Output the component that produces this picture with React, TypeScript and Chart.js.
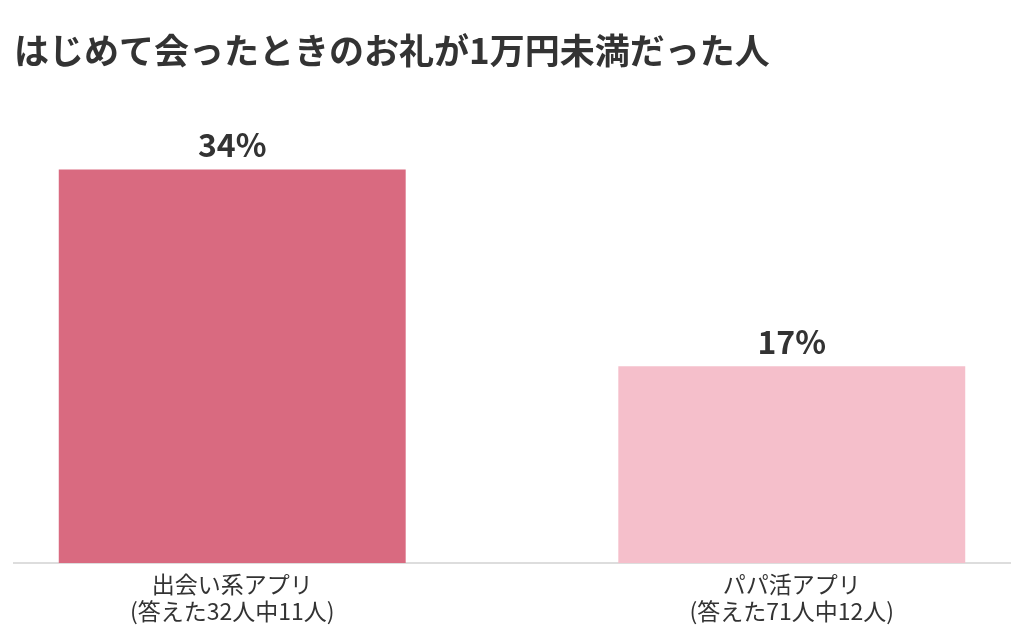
import { useEffect, useRef } from 'react';
import { Chart, registerables } from 'chart.js';

Chart.register(...registerables);

const chartTitle = 'はじめて会ったときのお礼が1万円未満だった人';
const categories = ['出会い系アプリ', 'パパ活アプリ'];
const subLabels = ['(答えた32人中11人)', '(答えた71人中12人)'];
const percentValues = [34, 17];
const barColors = ['#d96a80', '#f5bfcb'];

const fontFamily = '"Noto Sans CJK JP", "Noto Sans", sans-serif';
const textColor = '#333333';

const valueLabels = {
  id: 'valueLabels',
  afterDatasetsDraw(chart: Chart) {
    const { ctx } = chart;
    const meta = chart.getDatasetMeta(0);
    ctx.save();
    ctx.font = `bold 32px ${fontFamily}`;
    ctx.fillStyle = textColor;
    ctx.textAlign = 'center';
    ctx.textBaseline = 'alphabetic';
    meta.data.forEach((bar, i) => {
      ctx.fillText(`${percentValues[i]}%`, bar.x, bar.y - 12);
    });
    ctx.restore();
  },
};

export default function App(): JSX.Element {
  const canvasRef = useRef<HTMLCanvasElement | null>(null);

  useEffect(() => {
    if (!canvasRef.current) return;
    const chart = new Chart(canvasRef.current, {
      type: 'bar',
      data: {
        datasets: [
          {
            data: percentValues.map((v, i) => ({ x: i, y: v })),
            backgroundColor: barColors,
            barPercentage: 0.62,
            categoryPercentage: 1,
          },
        ],
      },
      options: {
        animation: false,
        responsive: true,
        maintainAspectRatio: false,
        layout: { padding: { left: 6, right: 6, top: 0, bottom: 0 } },
        plugins: {
          legend: { display: false },
          tooltip: { enabled: false },
          title: {
            display: true,
            text: chartTitle,
            align: 'start',
            color: textColor,
            font: { family: fontFamily, size: 35, weight: 'bold', lineHeight: 1.2 },
            padding: { top: 22, bottom: 28 },
          },
        },
        scales: {
          x: {
            type: 'linear',
            offset: false,
            bounds: 'data',
            min: -0.39,
            max: 1.39,
            afterBuildTicks: (axis) => {
              axis.ticks = categories.map((_, i) => ({ value: i }));
            },
            ticks: {
              color: textColor,
              padding: 8,
              maxRotation: 0,
              font: { family: fontFamily, size: 23, lineHeight: 1.15 },
              callback: (value) => {
                const i = Number(value);
                return [categories[i], subLabels[i]];
              },
            },
            grid: { display: false, drawTicks: false },
            border: { display: true, color: '#dddddd', width: 2 },
          },
          y: {
            display: false,
            min: 0,
            max: 40,
          },
        },
      },
      plugins: [valueLabels],
    });

    return () => {
      chart.destroy();
    };
  }, []);

  return (
    <div style={{ position: 'relative', height: 624 }}>
      <canvas ref={canvasRef} />
    </div>
  );
}
